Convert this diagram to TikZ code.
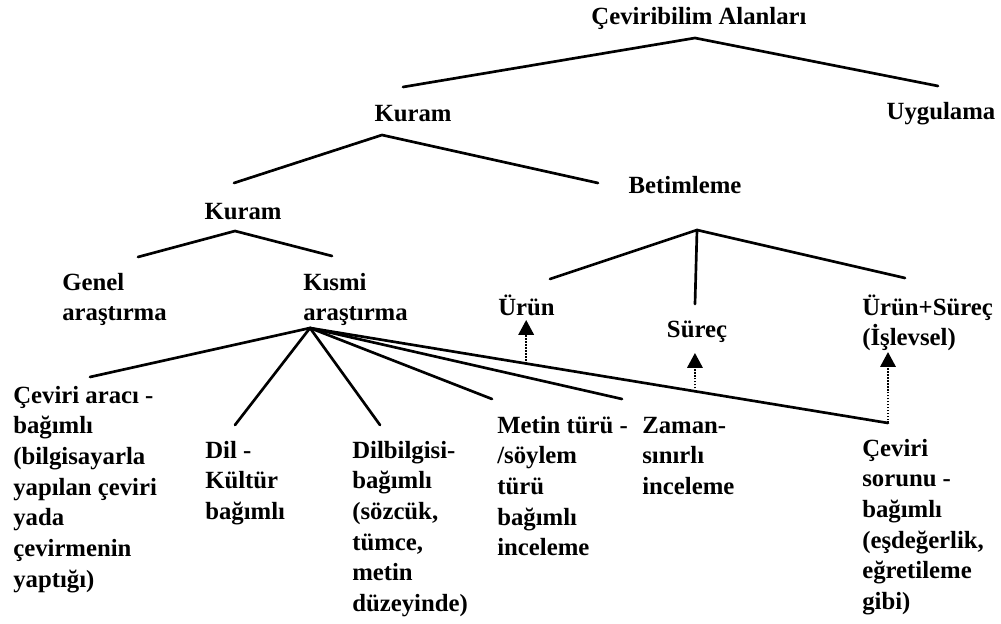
\documentclass[tikz,border=0pt]{standalone}
\usepackage{fontspec}
\setmainfont{Liberation Serif}
\usetikzlibrary{arrows.meta, calc}

\begin{document}
\begin{tikzpicture}[
    label/.style={inner sep=0pt, anchor=base, font=\fontsize{17.6}{21.8}\selectfont\bfseries},
    leaf/.style={inner sep=0pt, anchor=base west, align=left,
                 font=\fontsize{17.6}{21.8}\selectfont\bfseries},
    branch/.style={line width=1.9pt, line cap=round},
    hint/.style={densely dotted, line width=1.1pt,
                 -{Triangle[length=10.5pt,width=11pt]}},
]
\useasboundingbox (0,0) rectangle (25.025,15.575);

% ==========================================================
% Top levels
% ==========================================================
\node[label] (root) at (17.475, 14.95) {Çeviribilim Alanları};
\node[label] (kuram) at (10.325, 12.525) {Kuram};
\node[label] (uygulama) at (23.525, 12.575) {Uygulama};
\node[label] (betim) at (17.125, 10.725) {Betimleme};
\node[label] (kuramb) at (6.075, 10.1) {Kuram};

\coordinate (rootfork) at ($(root.base)+(-0.1,-0.325)$);
\draw[branch] ($(kuram.base)+(-0.25,0.875)$) -- (rootfork)
    -- ($(uygulama.base)+(-0.075,0.85)$);

\coordinate (kuramfork) at ($(kuram.base)+(-0.775,-0.325)$);
\draw[branch] ($(kuramb.base)+(-0.225,0.9)$) -- (kuramfork)
    -- ($(betim.base)+(-2.175,0.275)$);

% ----- Kuram: genel / kismi (base = last line) -----
\node[leaf] (genel) at (1.55, 7.558) {Genel\\araştırma};
\node[leaf] (kismi) at (7.575, 7.558) {Kısmi\\araştırma};

\coordinate (kuramfork2) at ($(kuramb.base)+(-0.2,-0.3)$);
\draw[branch] ($(genel.base west)+(1.9,1.592)$) -- (kuramfork2)
    -- ($(kismi.base west)+(0.725,1.617)$);

% ----- Betimleme: urun / surec / islevsel -----
\node[leaf] (urun) at (12.45, 7.7) {Ürün};
\node[label] (surec) at (17.425, 7.15) {Süreç};
\node[leaf] (islev) at (21.55, 6.933) {Ürün+Süreç\\(İşlevsel)};

\coordinate (betimfork) at ($(betim.base)+(0.3,-0.9)$);
\draw[branch] ($(urun.base west)+(1.3,0.9)$) -- (betimfork)
    -- ($(islev.base west)+(1.075,1.692)$);
\draw[branch] (betimfork) -- ($(surec.base)+(-0.05,0.825)$);

% ==========================================================
% Kismi arastirma: six kinds
% ==========================================================
\node[leaf] (arac) at (0.325, 0.898)
    {Çeviri aracı -\\bağımlı\\(bilgisayarla\\yapılan çeviri\\yada\\çevirmenin\\yaptığı)};
\node[leaf] (kultur) at (5.125, 2.591) {Dil -\\Kültür\\bağımlı};
\node[leaf] (dilbilgi) at (8.8, 0.29)
    {Dilbilgisi-\\bağımlı\\(sözcük,\\tümce,\\metin\\düzeyinde)};
\node[leaf] (metin) at (12.425, 1.682)
    {Metin türü -\\/söylem\\türü\\bağımlı\\inceleme};
\node[leaf] (zaman) at (16.05, 3.216) {Zaman-\\sınırlı\\inceleme};
\node[leaf] (sorun) at (21.55, 0.34)
    {Çeviri\\sorunu -\\bağımlı\\(eşdeğerlik,\\eğretileme\\gibi)};

\coordinate (kismifork) at ($(kismi.base west)+(0.175,-0.183)$);
\coordinate (sorunend) at ($(sorun.base west)+(0.65,4.66)$);
\draw[branch] (kismifork) -- ($(arac.base west)+(1.925,5.252)$);
\draw[branch] (kismifork) -- ($(kultur.base west)+(0.75,2.359)$);
\draw[branch] (kismifork) -- ($(dilbilgi.base west)+(0.7,4.66)$);
\draw[branch] (kismifork) -- ($(metin.base west)+(-0.125,3.918)$);
\draw[branch] (kismifork) -- ($(zaman.base west)+(-0.5,2.384)$);
\draw[branch] (kismifork) -- (sorunend);

% dotted links from the problem-oriented branch
\coordinate (urunfoot) at ($(kismifork)!0.374!(sorunend)$);
\coordinate (surecfoot) at ($(kismifork)!0.666!(sorunend)$);
\draw[hint] (urunfoot) -- ($(urunfoot |- urun.base)+(0,-0.125)$);
\draw[hint] (surecfoot) -- ($(surecfoot |- surec.base)+(0,-0.4)$);
\draw[hint] (sorunend) -- ($(sorunend |- islev.base)+(0,-0.16)$);

\end{tikzpicture}
\end{document}
